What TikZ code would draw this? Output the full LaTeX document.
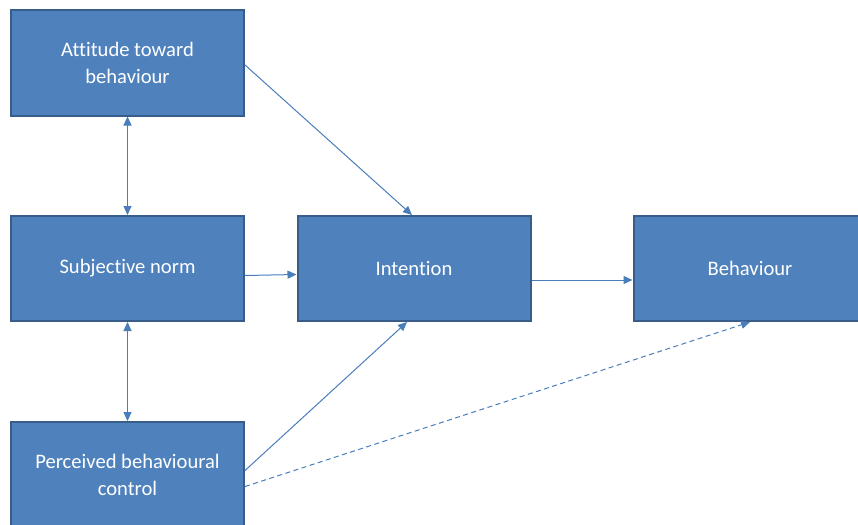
\documentclass[tikz,border=0pt]{standalone}
\usepackage{fontspec}
\setmainfont{Carlito}[Ligatures=NoCommon]
\usetikzlibrary{arrows.meta,calc}
\definecolor{boxfill}{HTML}{4F81BD}
\definecolor{boxline}{HTML}{385D8A}
\definecolor{linkcol}{HTML}{4A7EBB}
\tikzset{
  block/.style={draw=boxline, line width=2pt, fill=boxfill, text=white,
    minimum width=233pt, minimum height=105pt, align=center,
    font=\fontsize{20.6}{27}\selectfont, inner sep=0pt},
  link/.style={draw=linkcol, line width=1pt, -{Triangle[length=9pt,width=8pt]}},
  dlink/.style={draw=linkcol, line width=1pt, {Triangle[length=9pt,width=8pt]}-{Triangle[length=9pt,width=8pt]}},
  dashlink/.style={link, dash pattern=on 5pt off 3.5pt}
}
\begin{document}
\begin{tikzpicture}[x=1pt,y=-1pt]
\useasboundingbox (0,0) rectangle (858,524);
\fill[white] (0,0) rectangle (858,524);

\node[block] (att) at (127.5,63) {Attitude toward\\behaviour};
\node[block] (sub) at (127.5,268.5) {Subjective norm};
\node[block] (per) at (127.5,474.5) {Perceived behavioural\\control};
\node[block] (int) at (414,268.5) {Intention};
\node[block] (beh) at (750,268.5) {Behaviour};

\draw[dlink] (att.south) -- (sub.north);
\draw[dlink] (sub.south) -- (per.north);
\draw[link] ([yshift=-7pt]sub.east) -- ([yshift=-6pt]int.west);
\draw[link] ([yshift=-2pt]att.east) -- ([xshift=-2pt]int.north);
\draw[link] ([yshift=4pt]per.east) -- ([xshift=-7pt]int.south);
\draw[link] ([yshift=-11.5pt]int.east) -- ([yshift=-11.5pt]beh.west);
\draw[dashlink] ([yshift=-12pt]per.east) -- (beh.south);
\end{tikzpicture}
\end{document}
